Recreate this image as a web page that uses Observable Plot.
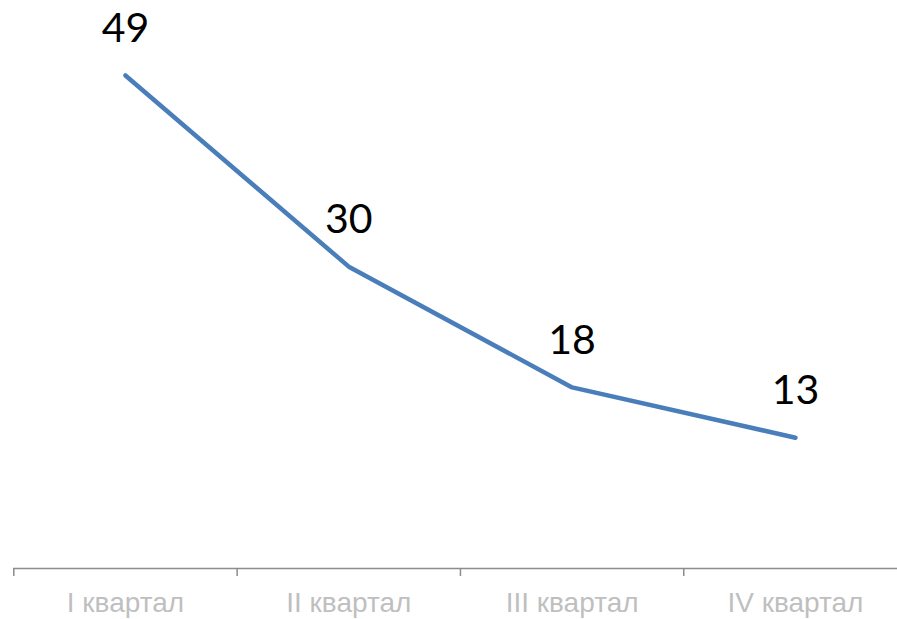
<!DOCTYPE html>
<html>
<head>
<meta charset="utf-8">
<script src="https://cdn.jsdelivr.net/npm/d3@7"></script>
<script src="https://cdn.jsdelivr.net/npm/@observablehq/plot@0.6"></script>
<style>
  html, body { margin: 0; padding: 0; background: #fff; }
  #chart svg { display: block; }
</style>
</head>
<body>
<div id="chart"></div>
<script>
const categories = ["I квартал", "II квартал", "III квартал", "IV квартал"];
const values = [49, 30, 18, 13];

const data = categories.map((c, i) => ({cat: c, idx: i + 0.5, value: values[i]}));
const boundaries = categories.map((c, i) => i);

const chart = Plot.plot({
  width: 897,
  height: 619,
  marginTop: 75,
  marginBottom: 51,
  marginLeft: 13,
  marginRight: 0,
  style: {background: "#fff"},
  x: {type: "linear", domain: [0, categories.length], range: [13.3, 906.6], axis: null, label: null},
  y: {domain: [0, 49], axis: null},
  marks: [
    Plot.ruleY([0], {stroke: "#8c8c8c", strokeWidth: 1.5}),
    Plot.ruleX(boundaries, {x: d => d, y1: 0, y2: 0, insetBottom: -8, stroke: "#8c8c8c", strokeWidth: 1.5}),
    Plot.axisX(data.map(d => d.idx), {
      tickSize: 0,
      tickPadding: 0,
      tickFormat: v => categories[Math.floor(v)],
      fill: "#bfbfbf",
      fontSize: 28,
      fontFamily: "Liberation Sans, Arial, sans-serif",
      dy: 35,
      lineAnchor: "middle",
      anchor: "bottom",
      label: null
    }),
    Plot.line(data, {x: "idx", y: "value", stroke: "#4a7ebb", strokeWidth: 4.5, strokeLinecap: "round", strokeLinejoin: "round"}),
    Plot.text(data, {x: "idx", y: "value", text: d => String(d.value), dy: -47, fill: "#000", fontSize: 41, fontFamily: "Lato, Open Sans, sans-serif"})
  ]
});
document.getElementById("chart").appendChild(chart);
</script>
</body>
</html>
